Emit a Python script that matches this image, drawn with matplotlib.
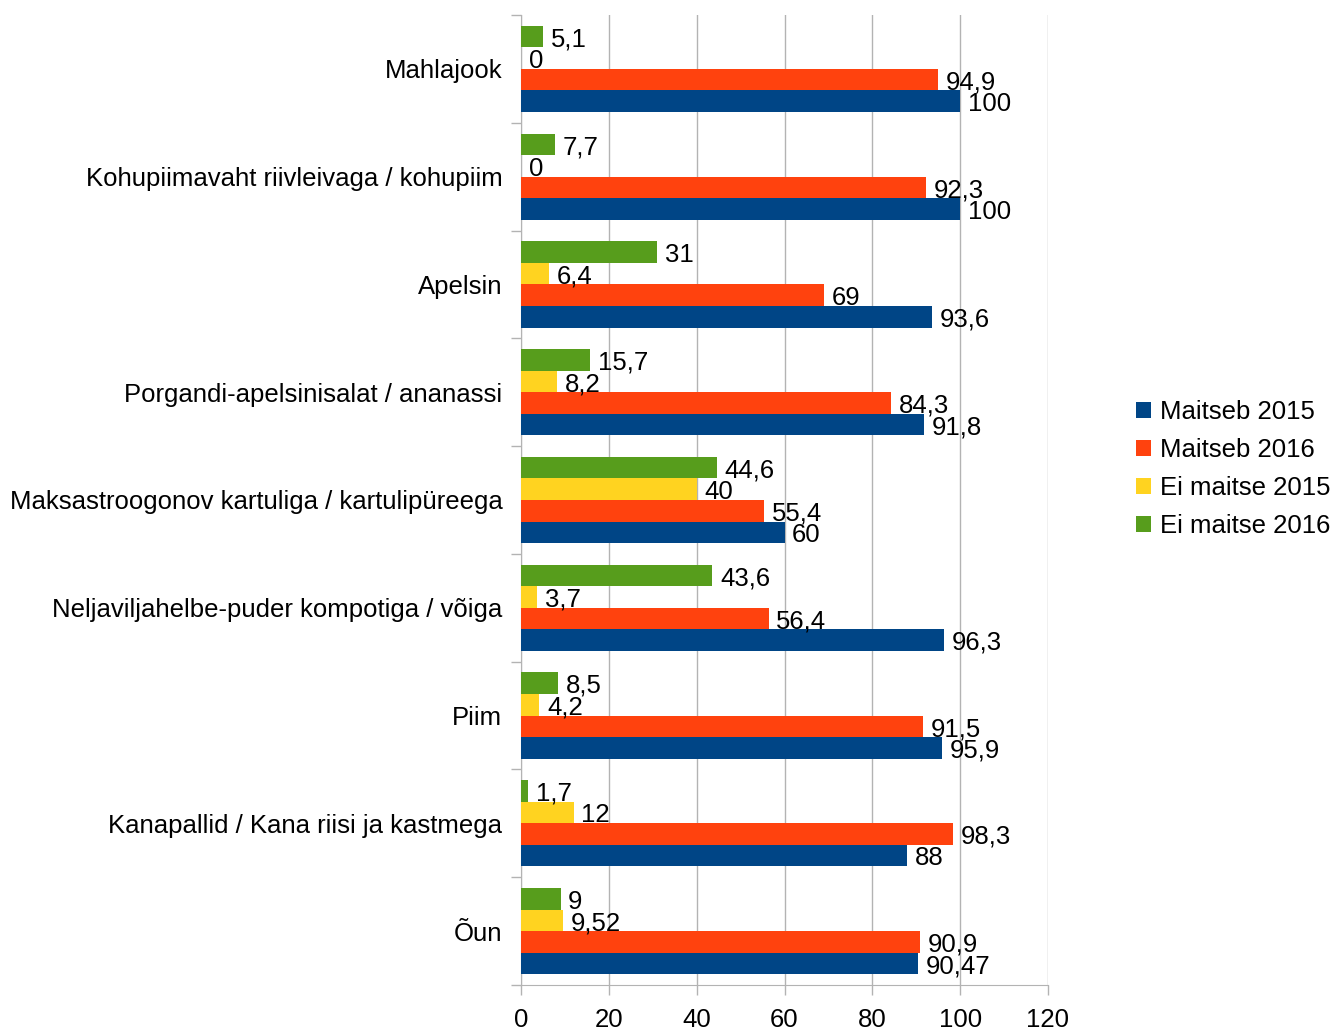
import matplotlib
matplotlib.use("Agg")
import matplotlib.pyplot as plt
import numpy as np

plt.rcParams['font.family'] = ['Liberation Sans', 'DejaVu Sans']

categories = [
    "Mahlajook",
    "Kohupiimavaht riivleivaga / kohupiim",
    "Apelsin",
    "Porgandi-apelsinisalat / ananassi",
    "Maksastroogonov kartuliga / kartulipüreega",
    "Neljaviljahelbe-puder kompotiga / võiga",
    "Piim",
    "Kanapallid / Kana riisi ja kastmega",
    "Õun",
]
maitseb_2015 = [100, 100, 93.6, 91.8, 60, 96.3, 95.9, 88, 90.47]
maitseb_2016 = [94.9, 92.3, 69, 84.3, 55.4, 56.4, 91.5, 98.3, 90.9]
ei_maitse_2015 = [0, 0, 6.4, 8.2, 40, 3.7, 4.2, 12, 9.52]
ei_maitse_2016 = [5.1, 7.7, 31, 15.7, 44.6, 43.6, 8.5, 1.7, 9]
series_names = ["Maitseb 2015", "Maitseb 2016", "Ei maitse 2015", "Ei maitse 2016"]
colors = ["#004586", "#ff420e", "#ffd320", "#579d1c"]
xticks = [0, 20, 40, 60, 80, 100, 120]

fig = plt.figure(figsize=(13.39, 10.30), dpi=100)
ax = fig.add_axes([521/1339, 1-985/1030, (1048-521)/1339, (985-15)/1030])

n = len(categories)
ypos = np.arange(n)[::-1].astype(float)
h = 0.2
series = [maitseb_2015, maitseb_2016, ei_maitse_2015, ei_maitse_2016]
offsets = [-1.5*h, -0.5*h, 0.5*h, 1.5*h]
fs = 18.5

def fmt(v):
    return ("%g" % v).replace(".", ",")

for vals, col, off, name in zip(series, colors, offsets, series_names):
    y = ypos + off
    ax.barh(y, vals, height=h, color=col, label=name, zorder=3)
    for yy, v in zip(y, vals):
        ax.annotate(fmt(v), (v, yy), xytext=(5.5, -2), textcoords='offset points',
                    ha='left', va='center', fontsize=fs, color='black', zorder=4)

ax.set_xlim(0, 120)
ax.set_ylim(-0.5, n-0.5)
ax.set_xticks(xticks)
ax.set_xticklabels([str(t) for t in xticks], fontsize=fs)
ax.set_yticks(ypos)
ax.set_yticklabels(categories, fontsize=fs)
ax.tick_params(axis='y', which='major', length=0, pad=13.5)
ax.set_yticks(np.arange(n+1) - 0.5, minor=True)
ax.tick_params(axis='y', which='minor', length=7.5, color='#b3b3b3', width=1)
ax.tick_params(axis='x', length=7.5, color='#b3b3b3', width=1, pad=9)
ax.grid(axis='x', color='#b3b3b3', linewidth=1, zorder=0)
for s in ['left', 'bottom', 'right', 'top']:
    ax.spines[s].set_visible(False)
ax.spines['left'].set_visible(True)
ax.spines['left'].set_color('#b3b3b3')
ax.spines['bottom'].set_visible(True)
ax.spines['bottom'].set_color('#b3b3b3')

handles, labels = ax.get_legend_handles_labels()
fig.legend(handles, labels, loc='center left', bbox_to_anchor=(1136/1339, 1-469/1030),
           frameon=False, fontsize=fs, handlelength=0.6, handleheight=0.6,
           handletextpad=0.35, labelspacing=0.54, borderpad=0, borderaxespad=0)

fig.savefig("out.png", dpi=100)
